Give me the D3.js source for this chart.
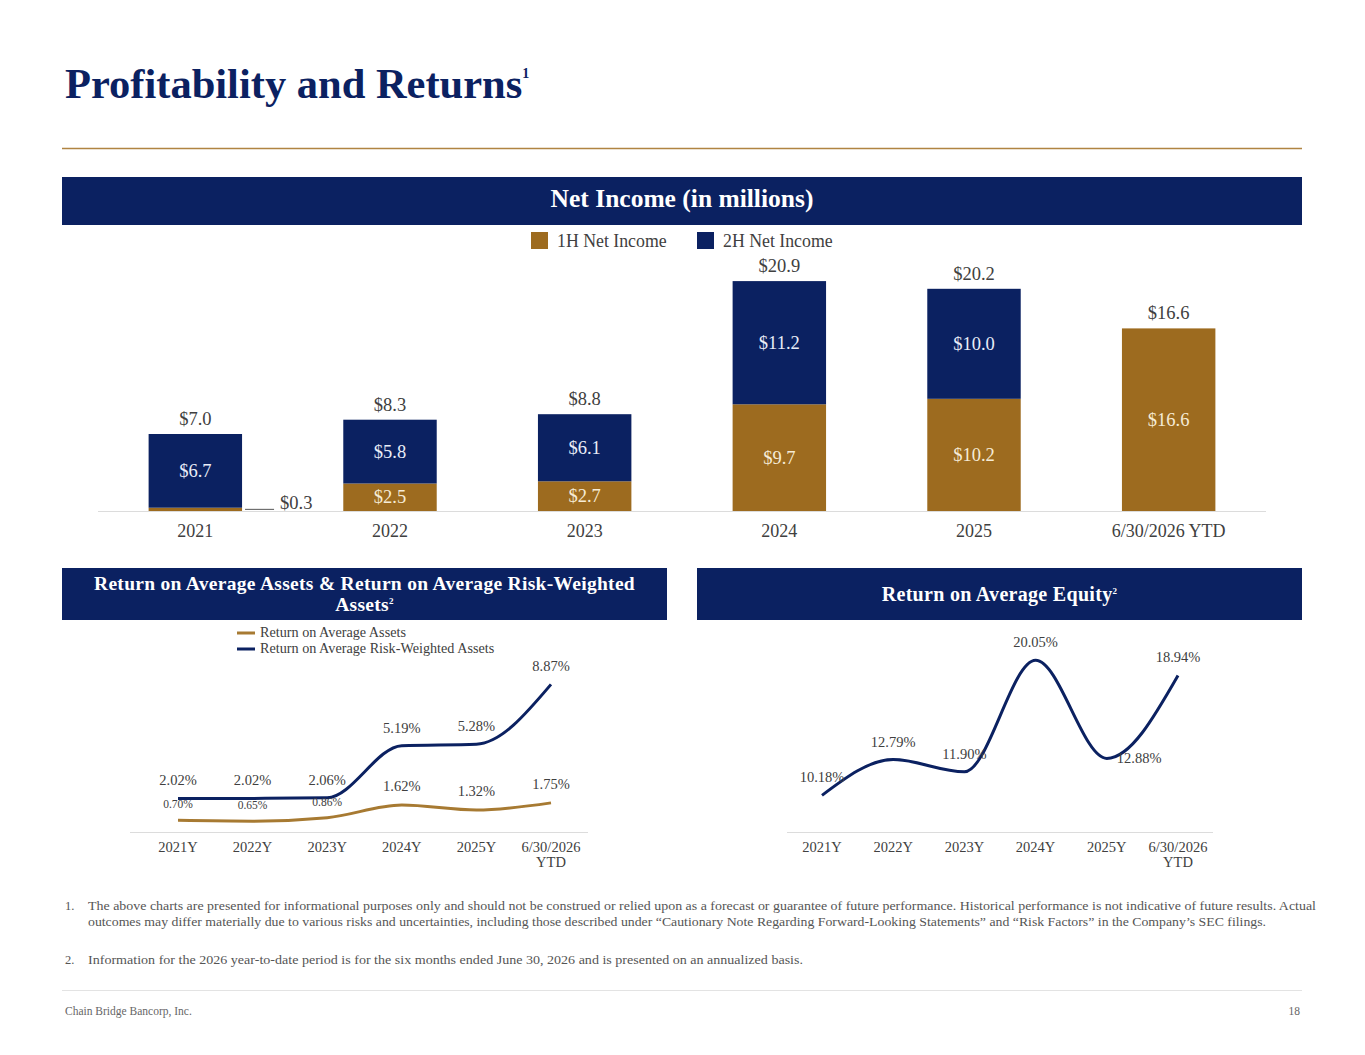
<!DOCTYPE html>
<html>
<head>
<meta charset="utf-8">
<script src="https://cdn.jsdelivr.net/npm/d3@7"></script>
<style>
  body { margin: 0; background: #fff; }
  svg { display: block; font-family: Georgia, "Liberation Serif", serif; }
</style>
</head>
<body>
<svg id="page" width="1365" height="1055"></svg>
<script>
// net income data (in millions)
const years = ["2021", "2022", "2023", "2024", "2025", "6/30/2026 YTD"];
const firstHalf = [0.3, 2.5, 2.7, 9.7, 10.2, 16.6];
const secondHalf = [6.7, 5.8, 6.1, 11.2, 10.0, 0];
const totals = [7.0, 8.3, 8.8, 20.9, 20.2, 16.6];

// return ratios (%)
const periods = ["2021Y", "2022Y", "2023Y", "2024Y", "2025Y", "6/30/2026|YTD"];
const roa = [0.70, 0.65, 0.86, 1.62, 1.32, 1.75];
const rorwa = [2.02, 2.02, 2.06, 5.19, 5.28, 8.87];
const roe = [10.18, 12.79, 11.90, 20.05, 12.88, 18.94];

const footnotes = [
  ["1.", "The above charts are presented for informational purposes only and should not be construed or relied upon as a forecast or guarantee of future performance. Historical performance is not indicative of future results. Actual"],
  ["", "outcomes may differ materially due to various risks and uncertainties, including those described under \u201cCautionary Note Regarding Forward-Looking Statements\u201d and \u201cRisk Factors\u201d in the Company\u2019s SEC filings."],
  ["2.", "Information for the 2026 year-to-date period is for the six months ended June 30, 2026 and is presented on an annualized basis."]
];

const NAVY = "#0b2161";
const GOLD = "#9d6b1f";
const GOLD_LINE = "#a77a32";
const TXT = "#404040";
const FONT = "'Liberation Serif', Georgia, serif";

const svg = d3.select("#page").style("font-family", FONT);

// ---- page title & rule
const title = svg.append("text")
    .attr("x", 65).attr("y", 98)
    .attr("fill", NAVY)
    .style("font-size", "42.5px")
    .style("font-weight", "bold")
    .text("Profitability and Returns");
title.append("tspan").attr("dy", -20).style("font-size", "14px").text("1");

svg.append("line")
    .attr("x1", 62).attr("x2", 1302).attr("y1", 148.5).attr("y2", 148.5)
    .attr("stroke", "#b08442").attr("stroke-width", 1.5);

// header band helper
function band(x, y, w, h, lines, sup) {
    svg.append("rect").attr("x", x).attr("y", y).attr("width", w).attr("height", h).attr("fill", NAVY);
    lines.forEach((l, i) => {
        const t = svg.append("text")
            .attr("x", x + w / 2).attr("y", l.y)
            .attr("text-anchor", "middle")
            .attr("fill", "#fff")
            .style("font-size", l.size + "px")
            .style("font-weight", "bold")
            .style("letter-spacing", (l.ls || 0) + "px")
            .text(l.text);
        if (sup && i === lines.length - 1) {
            t.append("tspan").attr("dy", -7).style("font-size", "9px").text(sup);
        }
    });
}

band(62, 177, 1240, 48, [{ text: "Net Income (in millions)", y: 207, size: 25.5 }]);
band(62, 568, 605, 52, [
    { text: "Return on Average Assets & Return on Average Risk-Weighted", y: 590, size: 19.5, ls: 0.3 },
    { text: "Assets", y: 611, size: 19.5, ls: 0.3 }
], "2");
band(697, 568, 605, 52, [{ text: "Return on Average Equity", y: 601, size: 20, ls: 0.3 }], "2");

// ---- bar chart
const x = d3.scaleBand().domain(years).range([98, 1266]).paddingInner(0.52).paddingOuter(0.26);
const y = d3.scaleLinear().domain([0, 22]).range([511, 269]);

const barData = years.map((yr, i) => ({ yr, h1: firstHalf[i], h2: secondHalf[i], total: totals[i] }));
const stack = d3.stack().keys(["h1", "h2"])(barData);
const colors = { h1: GOLD, h2: NAVY };

const gBars = svg.append("g");
stack.forEach(layer => {
    gBars.selectAll(null).data(layer).enter().append("rect")
        .attr("x", d => x(d.data.yr))
        .attr("width", x.bandwidth())
        .attr("y", d => y(d[1]))
        .attr("height", d => y(d[0]) - y(d[1]))
        .attr("fill", colors[layer.key]);
    // segment labels (skip the tiny 2021 1H slice)
    gBars.selectAll(null).data(layer.filter(d => d[1] - d[0] > 1)).enter().append("text")
        .attr("x", d => x(d.data.yr) + x.bandwidth() / 2)
        .attr("y", d => (y(d[0]) + y(d[1])) / 2 + 6)
        .attr("text-anchor", "middle")
        .attr("fill", layer.key === "h1" ? "#f6ecd6" : "#e9edf8")
        .style("font-size", "18.5px")
        .text(d => "$" + (d[1] - d[0]).toFixed(1));
});

svg.append("line")
    .attr("x1", 98).attr("x2", 1266).attr("y1", y(0) + 0.5).attr("y2", y(0) + 0.5)
    .attr("stroke", "#dcdcdc");

// totals
svg.selectAll(".tot").data(barData).enter().append("text")
    .attr("x", d => x(d.yr) + x.bandwidth() / 2)
    .attr("y", d => y(d.total) - 9)
    .attr("text-anchor", "middle")
    .attr("fill", TXT)
    .style("font-size", "18.5px")
    .text(d => "$" + d.total.toFixed(1));

// callout for the small 2021 first half
const small = barData[0];
svg.append("line")
    .attr("x1", x(small.yr) + x.bandwidth() + 3).attr("x2", x(small.yr) + x.bandwidth() + 32)
    .attr("y1", y(small.h1 / 2)).attr("y2", y(small.h1 / 2))
    .attr("stroke", "#555").attr("stroke-width", 1);
svg.append("text")
    .attr("x", x(small.yr) + x.bandwidth() + 38).attr("y", y(small.h1 / 2))
    .attr("fill", TXT)
    .style("font-size", "18.5px")
    .text("$" + small.h1.toFixed(1));

// x axis labels
svg.selectAll(".yr").data(years).enter().append("text")
    .attr("x", d => x(d) + x.bandwidth() / 2)
    .attr("y", 537)
    .attr("text-anchor", "middle")
    .attr("fill", TXT)
    .style("font-size", "18px")
    .text(d => d);

// legend
[["1H Net Income", GOLD, 531], ["2H Net Income", NAVY, 697]].forEach(([label, c, lx]) => {
    svg.append("rect").attr("x", lx).attr("y", 232).attr("width", 17).attr("height", 17).attr("fill", c);
    svg.append("text").attr("x", lx + 26).attr("y", 247)
        .attr("fill", TXT).style("font-size", "17.8px").text(label);
});

// ---- line chart helper
function periodAxis(xs, axisX1, axisX2) {
    svg.append("line")
        .attr("x1", axisX1).attr("x2", axisX2).attr("y1", 832.5).attr("y2", 832.5)
        .attr("stroke", "#dcdcdc");
    periods.forEach(p => {
        const parts = p.split("|");
        const t = svg.append("text")
            .attr("x", xs(p)).attr("y", 852)
            .attr("text-anchor", "middle")
            .attr("fill", TXT)
            .style("font-size", "14.5px");
        parts.forEach((s, k) => t.append("tspan").attr("x", xs(p)).attr("dy", k ? 15 : 0).text(s));
    });
}

// ---- ROAA & RoRWA
const xl = d3.scalePoint().domain(periods).range([178, 551]);
const yl = d3.scaleLinear().domain([0, 10]).range([832, 665.6]);
const lineL = d3.line().x((d, i) => xl(periods[i])).y(d => yl(d)).curve(d3.curveMonotoneX);

periodAxis(xl, 130, 588);

svg.append("path").attr("d", lineL(roa)).attr("fill", "none").attr("stroke", GOLD_LINE).attr("stroke-width", 3);
svg.append("path").attr("d", lineL(rorwa)).attr("fill", "none").attr("stroke", NAVY).attr("stroke-width", 3);

svg.selectAll(".rwl").data(rorwa).enter().append("text")
    .attr("x", (d, i) => xl(periods[i]))
    .attr("y", d => yl(d) - 13)
    .attr("text-anchor", "middle")
    .attr("fill", TXT)
    .style("font-size", "14.5px")
    .text(d => d.toFixed(2) + "%");

svg.selectAll(".roal").data(roa).enter().append("text")
    .attr("x", (d, i) => xl(periods[i]))
    .attr("y", (d, i) => yl(d) - (i < 3 ? 12 : 14))
    .attr("text-anchor", "middle")
    .attr("fill", TXT)
    .style("font-size", (d, i) => i < 3 ? "11.5px" : "14.5px")
    .text(d => d.toFixed(2) + "%");

[["Return on Average Assets", GOLD_LINE, 633], ["Return on Average Risk-Weighted Assets", NAVY, 649]].forEach(([label, c, ly]) => {
    svg.append("line").attr("x1", 237).attr("x2", 255).attr("y1", ly).attr("y2", ly)
        .attr("stroke", c).attr("stroke-width", 3);
    svg.append("text").attr("x", 260).attr("y", ly + 4)
        .attr("fill", TXT).style("font-size", "14.2px").text(label);
});

// ---- ROAE
const xr = d3.scalePoint().domain(periods).range([822, 1178]);
const yr = d3.scaleLinear().domain([7.5, 22]).range([832, 633.6]);
const lineR = d3.line().x((d, i) => xr(periods[i])).y(d => yr(d)).curve(d3.curveMonotoneX);

periodAxis(xr, 787, 1213);

svg.append("path").attr("d", lineR(roe)).attr("fill", "none").attr("stroke", NAVY).attr("stroke-width", 3);

svg.selectAll(".roel").data(roe).enter().append("text")
    .attr("x", (d, i) => xr(periods[i]) + (i === 4 ? 10 : 0))
    .attr("y", (d, i) => i === 4 ? yr(d) + 5 : yr(d) - 13)
    .attr("text-anchor", (d, i) => i === 4 ? "start" : "middle")
    .attr("fill", TXT)
    .style("font-size", "14.5px")
    .text(d => d.toFixed(2) + "%");

// ---- footnotes
const noteY = [910, 926, 964];
const noteW = [1228, 1178, 715];
footnotes.forEach(([num, txt], i) => {
    if (num) {
        svg.append("text").attr("x", 65).attr("y", noteY[i])
            .attr("fill", "#555").style("font-size", "12.5px").text(num);
    }
    svg.append("text").attr("x", 88).attr("y", noteY[i])
        .attr("fill", "#555").style("font-size", "12.5px")
        .attr("textLength", noteW[i]).attr("lengthAdjust", "spacingAndGlyphs")
        .text(txt);
});

svg.append("line").attr("x1", 62).attr("x2", 1302).attr("y1", 990.5).attr("y2", 990.5)
    .attr("stroke", "#e3e3e3");
svg.append("text").attr("x", 65).attr("y", 1015)
    .attr("fill", "#666").style("font-size", "11.5px").text("Chain Bridge Bancorp, Inc.");
svg.append("text").attr("x", 1300).attr("y", 1015).attr("text-anchor", "end")
    .attr("fill", "#666").style("font-size", "11.5px").text("18");
</script>
</body>
</html>
